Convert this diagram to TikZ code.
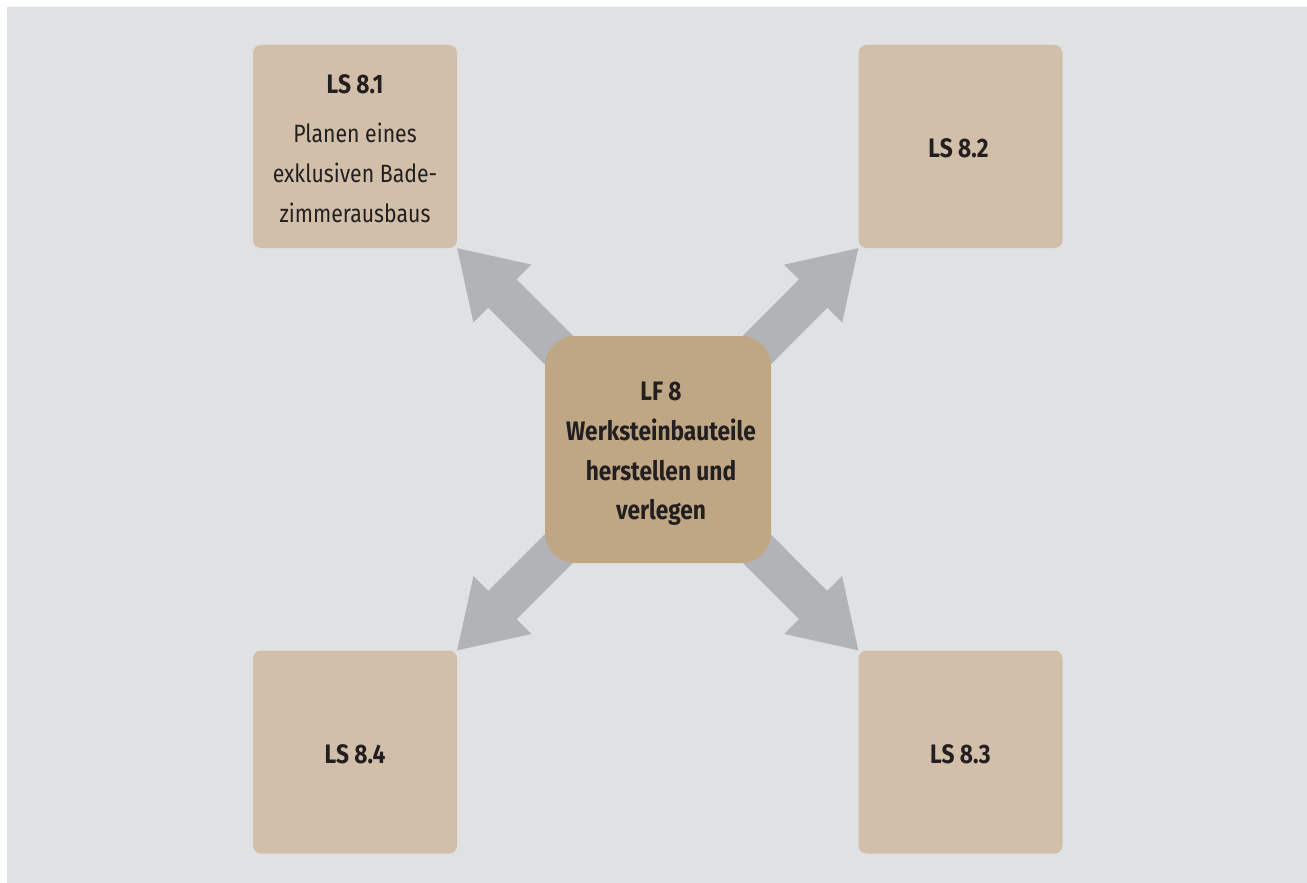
\documentclass[tikz,border=0pt]{standalone}
\usepackage{fontspec}
\setmainfont{Fira Sans}[FakeStretch=0.85]
\usetikzlibrary{calc}
\definecolor{bg}{HTML}{E0E1E3}
\definecolor{boxc}{HTML}{D1BFA9}
\definecolor{centc}{HTML}{BFA785}
\definecolor{arrc}{HTML}{B2B3B6}
\definecolor{txt}{HTML}{231F20}
\tikzset{
  lsbox/.style={fill=boxc, draw=none, rounded corners=8pt, minimum width=204pt, minimum height=203pt, inner sep=0pt},
  lfbox/.style={fill=centc, draw=none, rounded corners=30pt, minimum width=226pt, minimum height=227pt, inner sep=0pt},
  lbl/.style={text=txt, font=\fontsize{25}{40}\selectfont, inner sep=0pt, anchor=base},
  bld/.style={lbl, font=\fontsize{26.7}{40}\selectfont\bfseries},
  blockarrow/.style={fill=arrc, draw=none}
}
\begin{document}
\begin{tikzpicture}[x=1pt,y=-1pt]
\useasboundingbox (0,0) rectangle (1307,883);
\fill[bg] (7,7) rectangle (1307,883);
% boxes
\node[lsbox] (b1) at (355,146.5) {};
\node[lsbox] (b2) at (960.5,146.5) {};
\node[lsbox] (b3) at (960.5,752) {};
\node[lsbox] (b4) at (355,752) {};
\coordinate (c) at (658,449.5);
% block arrows from centre to box corners
\foreach \t in {b1.south east, b2.south west, b3.north west, b4.north east}{
  \coordinate (T) at (\t);
  \coordinate (H) at ($(T)!64pt!(c)$);
  \fill[blockarrow] (T)
    -- ($(H)!41pt!90:(T)$) -- ($(H)!20pt!90:(T)$)
    -- ($(c)!20pt!90:(T)$) -- ($(c)!20pt!-90:(T)$)
    -- ($(H)!20pt!-90:(T)$) -- ($(H)!41pt!-90:(T)$) -- cycle;
}
% centre node
\node[lfbox] (lf) at (c) {};
% texts
\node[bld] (t1) at (355,93) {LS 8.1};
\node[lbl] (t1a) at (355,142) {Planen eines};
\node[lbl] (t1b) at (355,182) {exklusiven Bade-};
\node[lbl] (t1c) at (355,222) {zimmerausbaus};
\node[bld] (t2) at (958.5,157) {LS 8.2};
\node[bld] (t3) at (960.5,763) {LS 8.3};
\node[bld] (t4) at (355,763) {LS 8.4};
\node[bld] (l1) at (661,400) {LF 8};
\node[bld] (l2) at (661,440) {Werksteinbauteile};
\node[bld] (l3) at (661,480) {herstellen und};
\node[bld] (l4) at (661,519) {verlegen};
\end{tikzpicture}
\end{document}
